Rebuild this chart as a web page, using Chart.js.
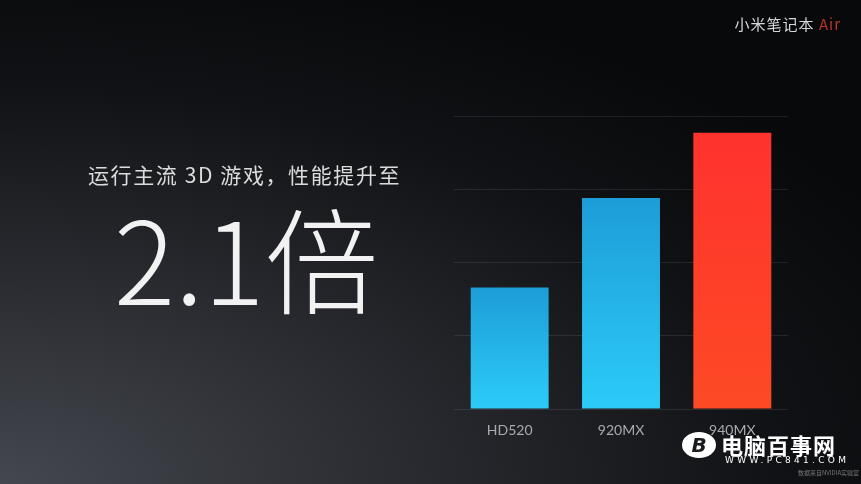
<!DOCTYPE html>
<html>
<head>
<meta charset="utf-8">
<script src="https://cdn.jsdelivr.net/npm/chart.js@4.4.0/dist/chart.umd.min.js"></script>
<style>
  html, body { margin: 0; padding: 0; }
  body {
    width: 861px; height: 484px; overflow: hidden; position: relative;
    background: radial-gradient(ellipse 120% 110% at 0% 100%, #44474e 0%, #25272c 45%, #111215 75%, #08090b 100%);
    font-family: "Noto Sans CJK SC", "Noto Sans", sans-serif;
  }
  #wrap { position: absolute; left: 0; top: 0; width: 861px; height: 484px; }
  .txt { position: absolute; white-space: nowrap; }
  #brand { right: 20px; top: 13px; font-size: 15px; color: #d8d8d8; letter-spacing: 1px; }
  #brand span { color: #b8322b; }
  #sub { left: 88px; top: 159px; font-size: 21px; color: #dcdcdc; letter-spacing: 1.6px; }
  #big { left: 114px; top: 188px; font-size: 114px; color: #f2f2f2; font-weight: 200; line-height: 1.2; }
  #logo { left: 682px; top: 432px; width: 34px; height: 26px; border-radius: 50%; background: #fff;
          color: #1a1b1f; font: bold italic 20px "DejaVu Sans", sans-serif; text-align: center; line-height: 26px; }
  #wm { left: 721px; top: 428px; font-size: 22px; color: #fff; font-weight: bold; letter-spacing: 1px; }
  #wm2 { left: 725px; top: 455px; font-size: 9px; color: #fff; letter-spacing: 3.3px; font-family: "DejaVu Sans", sans-serif; }
  #note { left: 798px; top: 468px; font-size: 6px; color: #777; }
</style>
</head>
<body>
<div id="wrap"><canvas id="chart" width="861" height="484"></canvas></div>
<div class="txt" id="brand">小米笔记本 <span>Air</span></div>
<div class="txt" id="sub">运行主流 3D 游戏，性能提升至</div>
<div class="txt" id="big">2.1倍</div>
<div class="txt" id="logo">B</div>
<div class="txt" id="wm">电脑百事网</div>
<div class="txt" id="wm2">WWW.PC841.COM</div>
<div class="txt" id="note">数据来自NVIDIA实验室</div>
<script>
// ── Data ─────────────────
const categories = ['HD520', '920MX', '940MX'];
const scores = [1.66, 2.88, 3.77];
const highlight = [false, false, true];

const BLUE = ['#1d9dd7', '#2ccbf7'];
const RED = ['#ff322e', '#fd4a24'];

// gradient per batang, dipasang tepat sebelum digambar
const barGradient = {
    id: 'barGradient',
    beforeDatasetsDraw(chart) {
        const c = chart.ctx;
        chart.getDatasetMeta(0).data.forEach((bar, i) => {
            const stops = highlight[i] ? RED : BLUE;
            const g = c.createLinearGradient(0, bar.y, 0, bar.base);
            g.addColorStop(0, stops[0]);
            g.addColorStop(1, stops[1]);
            bar.options = Object.assign({}, bar.options, { backgroundColor: g });
        });
    }
};

new Chart(document.getElementById('chart'), {
    type: 'bar',
    data: {
        labels: categories,
        datasets: [{
            data: scores,
            backgroundColor: highlight.map(h => h ? RED[1] : BLUE[1]),
            borderWidth: 0,
            barPercentage: 0.7,
            categoryPercentage: 1.0
        }]
    },
    options: {
        responsive: false,
        animation: false,
        layout: { padding: { left: 454, right: 73, top: 116, bottom: 0 } },
        plugins: { legend: { display: false }, tooltip: { enabled: false } },
        scales: {
            x: {
                grid: { display: false },
                border: { display: false },
                ticks: { color: '#a9abb0', font: { size: 14, family: 'Lato, "Noto Sans", sans-serif' }, padding: 5 },
                afterFit: (scale) => { scale.height = 75; }
            },
            y: {
                min: 0,
                max: 4,
                ticks: { display: false, stepSize: 1 },
                border: { display: false },
                grid: { color: 'rgba(255,255,255,0.09)', lineWidth: 1, drawTicks: false },
                afterFit: (scale) => { scale.width = 0; }
            }
        }
    },
    plugins: [barGradient]
});
</script>
</body>
</html>
